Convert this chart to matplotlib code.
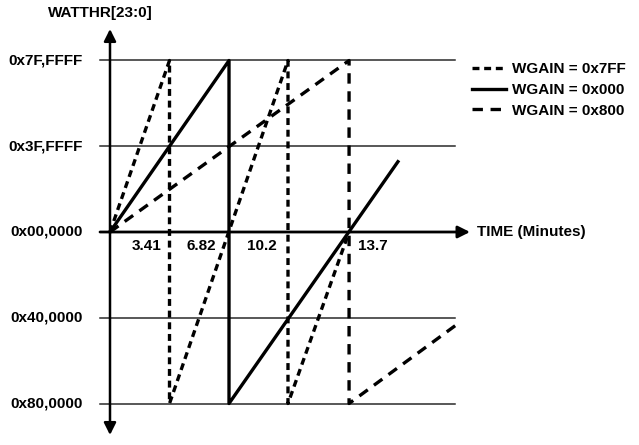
import matplotlib
matplotlib.use('Agg')
import matplotlib.pyplot as plt

plt.rcParams['font.family'] = ['Liberation Sans', 'DejaVu Sans']
plt.rcParams['font.weight'] = 'bold'
plt.rcParams['lines.scale_dashes'] = False

# register levels (full scale = 1)
level_values = [1.0, 0.5, 0.0, -0.5, -1.0]
level_labels = ['0x7F,FFFF', '0x3F,FFFF', '0x00,0000', '0x40,0000', '0x80,0000']

# rollover times (minutes)
time_marks = [3.41, 6.82, 10.2, 13.7]
time_labels = ['3.41', '6.82', '10.2', '13.7']

# WATTHR traces for each gain setting
wgain_7ff_t = [0, 3.41, 3.41, 10.2, 10.2, 13.7]
wgain_7ff_v = [0, 1.0, -1.0, 1.0, -1.0, 0.0]
wgain_000_t = [0, 6.82, 6.82, 16.5]
wgain_000_v = [0, 1.0, -1.0, 0.41]
wgain_800_t = [0, 13.7, 13.7, 20.0]
wgain_800_v = [0, 1.0, -1.0, -0.53]

# pixel layout of the drawing
W, H = 639, 445
X0, KX = 110, 17.45     # px of t=0, px per minute
Y0, KY = 232, 171.5     # px of zero level, px per full scale
FS = 11


def tx(px):
    return (px - X0) / KX


def vy(py):
    return (Y0 - py) / KY


fig = plt.figure(figsize=(W / 100, H / 100), dpi=100)
ax = fig.add_axes([0, 0, 1, 1])
ax.set_xlim(tx(0), tx(W))
ax.set_ylim(vy(H), vy(0))
ax.axis('off')

# horizontal reference lines and level labels
for v, lab in zip(level_values, level_labels):
    if v != 0:
        ax.plot([tx(100), tx(455)], [v, v], color='#2a2a2a', lw=1.1, zorder=1)
    ax.text(tx(83), v, lab, ha='right', va='center', fontsize=FS, fontweight='bold')

# axes with arrows
ax.annotate('', xy=(tx(470), 0), xytext=(tx(100), 0),
            arrowprops=dict(arrowstyle='-|>', lw=2, color='k', mutation_scale=18,
                            shrinkA=0, shrinkB=0))
ax.annotate('', xy=(0, vy(29)), xytext=(0, vy(435)),
            arrowprops=dict(arrowstyle='<|-|>', lw=1.8, color='k', mutation_scale=18,
                            shrinkA=0, shrinkB=0))
ax.text(tx(48), vy(13), 'WATTHR[23:0]', ha='left', va='center', fontsize=FS, fontweight='bold')
ax.text(tx(477), 0, 'TIME (Minutes)', ha='left', va='center', fontsize=FS, fontweight='bold')

# time labels
label_offsets = [-23, -28, -26, 24]
for t, lab, off in zip(time_marks, time_labels, label_offsets):
    ax.annotate(lab, xy=(t, 0), xytext=(off * 0.72, -10), textcoords='offset points',
                ha='center', va='center', fontsize=FS, fontweight='bold')

# traces
ax.plot(wgain_7ff_t, wgain_7ff_v, color='k', lw=2.4, linestyle=(0, (5, 3.4)),
        label='WGAIN = 0x7FF', zorder=3)
ax.plot(wgain_000_t, wgain_000_v, color='k', lw=2.4, linestyle='-',
        label='WGAIN = 0x000', zorder=3)
ax.plot(wgain_800_t, wgain_800_v, color='k', lw=2.4, linestyle=(0, (7.5, 5.5)),
        label='WGAIN = 0x800', zorder=3)

leg = ax.legend(loc='upper left', bbox_to_anchor=(472 / W, 1 - 62 / H),
                bbox_transform=fig.transFigure, frameon=False, fontsize=FS,
                handlelength=2.2, handletextpad=0.4, labelspacing=0.45, borderpad=0,
                borderaxespad=0)
for txt in leg.get_texts():
    txt.set_fontweight('bold')

fig.savefig('out.png', dpi=100)
